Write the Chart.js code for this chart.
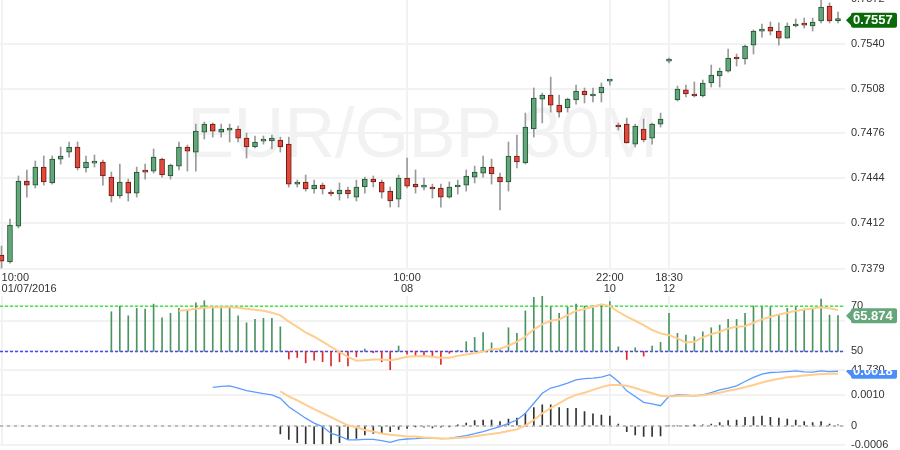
<!DOCTYPE html>
<html>
<head>
<meta charset="utf-8">
<title>EUR/GBP 30M</title>
<script src="https://cdn.jsdelivr.net/npm/chart.js"></script>
<style>
  body { margin: 0; background: #fff; }
  #wrap { position: relative; width: 900px; height: 450px; overflow: hidden; }
  canvas { position: absolute; left: 0; }
</style>
</head>
<body>
<div id="wrap">
  <canvas id="main" width="900" height="300" style="top:0"></canvas>
  <canvas id="rsi" width="900" height="100" style="top:290px"></canvas>
  <canvas id="macd" width="900" height="80" style="top:370px"></canvas>
</div>
<script>
// candle index (one per 30 minute bar shown)
const candleIndex = Array.from({ length: 100 }, (_, i) => i);

const opens = [0.73890,0.73840,0.74097,0.74419,0.74390,0.74519,0.74405,0.74576,0.74626,0.74662,
  0.74512,0.74547,0.74555,0.74447,0.74312,0.74412,0.74333,0.74490,0.74490,0.74576,
  0.74455,0.74526,0.74662,0.74626,0.74769,0.74826,0.74769,0.74783,0.74791,0.74726,
  0.74662,0.74704,0.74705,0.74712,0.74683,0.74397,0.74412,0.74362,0.74390,0.74333,
  0.74326,0.74355,0.74304,0.74376,0.74433,0.74412,0.74347,0.74290,0.74440,0.74397,
  0.74375,0.74376,0.74369,0.74304,0.74376,0.74390,0.74447,0.74476,0.74519,0.74447,
  0.74412,0.74598,0.74548,0.74791,0.75005,0.75034,0.74962,0.74941,0.74998,0.75062,
  0.75027,0.75048,0.75133,0.74819,0.74826,0.74683,0.74791,0.74726,0.74826,0.75276,
  0.74998,0.75070,0.75034,0.75027,0.75120,0.75170,0.75205,0.75298,0.75291,0.75391,
  0.75490,0.75520,0.75491,0.75441,0.75527,0.75534,0.75527,0.75563,0.75670,0.75566];
const highs = [0.73954,0.74147,0.74455,0.74498,0.74562,0.74598,0.74598,0.74662,0.74698,0.74698,
  0.74598,0.74605,0.74569,0.74483,0.74540,0.74433,0.74519,0.74540,0.74648,0.74583,
  0.74540,0.74698,0.74676,0.74826,0.74841,0.74834,0.74826,0.74826,0.74812,0.74762,
  0.74741,0.74741,0.74748,0.74733,0.74733,0.74426,0.74462,0.74426,0.74405,0.74355,
  0.74405,0.74376,0.74426,0.74447,0.74455,0.74426,0.74376,0.74462,0.74583,0.74498,
  0.74440,0.74397,0.74397,0.74412,0.74426,0.74498,0.74526,0.74598,0.74576,0.74476,
  0.74698,0.74748,0.74905,0.75084,0.75048,0.75162,0.75034,0.75012,0.75105,0.75084,
  0.75084,0.75120,0.75141,0.74834,0.74869,0.74826,0.74862,0.74834,0.74905,0.75298,
  0.75098,0.75105,0.75127,0.75141,0.75248,0.75227,0.75363,0.75327,0.75391,0.75499,
  0.75541,0.75556,0.75549,0.75549,0.75577,0.75584,0.75584,0.75713,0.75692,0.75627];
const lows = [0.73797,0.73832,0.74083,0.74304,0.74369,0.74390,0.74397,0.74540,0.74590,0.74498,
  0.74483,0.74519,0.74390,0.74269,0.74297,0.74276,0.74304,0.74433,0.74476,0.74447,
  0.74433,0.74498,0.74490,0.74490,0.74719,0.74733,0.74733,0.74698,0.74698,0.74583,
  0.74655,0.74683,0.74648,0.74626,0.74376,0.74376,0.74347,0.74333,0.74326,0.74312,
  0.74283,0.74297,0.74276,0.74333,0.74376,0.74297,0.74233,0.74233,0.74369,0.74333,
  0.74355,0.74297,0.74233,0.74297,0.74326,0.74347,0.74405,0.74447,0.74397,0.74212,
  0.74347,0.74512,0.74540,0.74733,0.74834,0.74912,0.74876,0.74912,0.74969,0.74977,
  0.74984,0.74984,0.75105,0.74784,0.74690,0.74662,0.74698,0.74683,0.74805,0.75263,
  0.74991,0.75020,0.75020,0.75020,0.75091,0.75091,0.75198,0.75241,0.75255,0.75327,
  0.75448,0.75463,0.75391,0.75440,0.75520,0.75513,0.75491,0.75549,0.75549,0.75549];
const closes = [0.73847,0.74104,0.74419,0.74390,0.74519,0.74412,0.74576,0.74598,0.74662,0.74512,
  0.74555,0.74548,0.74455,0.74312,0.74412,0.74333,0.74483,0.74483,0.74590,0.74462,
  0.74533,0.74662,0.74633,0.74776,0.74826,0.74776,0.74791,0.74784,0.74726,0.74662,
  0.74698,0.74705,0.74726,0.74662,0.74397,0.74412,0.74362,0.74390,0.74362,0.74326,
  0.74355,0.74326,0.74376,0.74433,0.74412,0.74340,0.74276,0.74440,0.74383,0.74376,
  0.74376,0.74362,0.74304,0.74376,0.74390,0.74455,0.74483,0.74519,0.74469,0.74412,
  0.74598,0.74555,0.74805,0.75012,0.75034,0.74962,0.74912,0.75005,0.75062,0.75034,
  0.75041,0.75091,0.75134,0.74805,0.74691,0.74812,0.74712,0.74826,0.74862,0.75277,
  0.75077,0.75041,0.75027,0.75120,0.75177,0.75205,0.75298,0.75291,0.75384,0.75491,
  0.75491,0.75491,0.75441,0.75527,0.75541,0.75533,0.75556,0.75663,0.75563,0.75568];

// RSI and its moving average
const rsi = Array(13).fill(null).concat([
  67.6,70.1,65.8,69.1,68.8,71.0,64.9,66.9,69.1,68.4,
  71.6,72.5,69.8,69.8,69.8,65.8,62.7,64.2,64.7,64.7,
  60.9,46.6,47.3,44.9,46.1,45.4,43.5,45.4,43.5,47.6,
  51.0,49.4,45.4,41.73,52.4,48.8,47.9,47.9,47.6,44.2,
  49.1,50.5,54.3,56.2,58.3,53.8,51.3,60.5,58.0,68.0,
  74.0,74.6,69.8,66.9,69.6,71.0,70.1,70.1,70.9,72.1,
  52.0,46.4,51.6,47.9,52.4,54.0,66.9,58.0,57.2,56.5,
  58.7,60.5,61.7,64.2,64.2,66.9,70.1,69.8,69.8,66.4,
  69.1,69.8,68.8,69.1,73.2,66.1,65.874]);
const rsiMa = Array(21).fill(null).concat([
  68.0,68.4,68.9,69.4,69.6,69.6,69.6,69.4,68.9,68.5,
  68.0,67.2,66.0,63.2,60.9,58.4,56.5,54.3,52.0,49.8,
  47.6,45.8,46.1,46.4,46.4,46.1,46.7,47.6,47.8,47.9,
  47.6,47.2,47.2,48.0,48.6,49.2,49.9,51.0,51.2,52.5,
  54.3,56.5,59.8,62.0,63.6,64.2,66.1,68.0,68.8,69.8,
  70.9,70.1,67.6,65.4,63.6,61.7,59.5,58.0,57.2,55.8,
  54.0,54.3,56.2,57.6,58.7,60.2,60.9,61.2,62.7,64.2,
  65.4,66.4,67.2,68.0,68.6,69.1,69.6,69.1,68.4]);

// MACD line, signal line, histogram
const macd = Array(25).fill(null).concat([
  0.00124,0.00127,0.00129,0.00122,0.00114,0.00109,0.00104,0.00100,0.00089,0.00062,
  0.00043,0.00025,0.00009,-0.00002,-0.00024,-0.00032,-0.00045,-0.00045,-0.00043,-0.00043,
  -0.00047,-0.00053,-0.00045,-0.00042,-0.00041,-0.00038,-0.00039,-0.00041,-0.00040,-0.00035,
  -0.00031,-0.00025,-0.00018,-0.00010,-0.00002,0.00008,0.00019,0.00041,0.00073,0.00105,
  0.00122,0.00129,0.00138,0.00148,0.00152,0.00154,0.00157,0.00165,0.00143,0.00113,
  0.00095,0.00076,0.00071,0.00065,0.00095,0.00100,0.00099,0.00097,0.00100,0.00107,
  0.00116,0.00122,0.00129,0.00143,0.00156,0.00167,0.00172,0.00173,0.00175,0.00177,
  0.00174,0.00173,0.00177,0.00175,0.00176]);
const signal = Array(33).fill(null).concat([
  0.00111,0.00095,0.00082,0.00068,0.00054,0.00041,0.00028,0.00015,0.00002,-0.00004,
  -0.00013,-0.00018,-0.00024,-0.00028,-0.00031,-0.00034,-0.00034,-0.00037,-0.00039,-0.00040,
  -0.00040,-0.00038,-0.00037,-0.00033,-0.00029,-0.00026,-0.00022,-0.00016,-0.00011,0.00001,
  0.00019,0.00041,0.00057,0.00073,0.00089,0.00100,0.00107,0.00116,0.00125,0.00132,
  0.00132,0.00129,0.00122,0.00113,0.00105,0.00097,0.00095,0.00096,0.00097,0.00097,
  0.00099,0.00103,0.00107,0.00113,0.00118,0.00125,0.00132,0.00140,0.00146,0.00152,
  0.00157,0.00159,0.00162,0.00165,0.00167,0.00168,0.00168]);
const hist = Array(33).fill(null).concat([
  -0.00026,-0.00043,-0.00054,-0.00058,-0.00058,-0.00058,-0.00058,-0.00054,-0.00043,-0.00040,
  -0.00029,-0.00024,-0.00022,-0.00018,-0.00011,-0.00008,-0.00002,-0.00004,-0.00006,-0.00004,
  -0.00003,0.00002,0.00009,0.00017,0.00019,0.00019,0.00014,0.00022,0.00025,0.00041,
  0.00059,0.00068,0.00068,0.00059,0.00057,0.00057,0.00046,0.00039,0.00035,0.00032,
  0.00006,-0.00018,-0.00029,-0.00034,-0.00034,-0.00032,0.00000,0.00000,0.00000,0.00001,
  0.00003,0.00006,0.00011,0.00017,0.00019,0.00028,0.00030,0.00032,0.00028,0.00025,
  0.00022,0.00019,0.00014,0.00011,0.00014,0.00006,0.00003]);

// axis ticks
const xTickIdx = [0, 48, 72, 79];
const xTickLabels = [['10:00', '01/07/2016'], ['10:00', '08'], ['22:00', '10'], ['18:30', '12']];
const priceTicks = [0.7379, 0.7412, 0.7444, 0.7476, 0.7508, 0.7540, 0.7572];
const rsiTicks = [41.73, 50, 63.5, 70];
const rsiTickLabels = ['41.730', '50', '', '70'];
const rsiLevels = [70, 50];
const macdTicks = [-0.0006, 0, 0.0010, 0.0018];
const macdTickLabels = ['-0.0006', '0', '0.0010', '0.0018'];

const FONT = '"Liberation Sans", Arial, sans-serif';
const GRID = '#f2f2f2';
const X_MIN = -0.18, X_MAX = 99.83;
const UP = '#62a679', UP_LINE = '#1f5232', DOWN = '#e0493b', DOWN_LINE = '#6e1a12';

function xScale(showLabels) {
  return {
    type: 'linear', min: X_MIN, max: X_MAX, bounds: 'data', offset: false,
    afterBuildTicks: s => { s.ticks = xTickIdx.map(v => ({ value: v })).concat([{ value: X_MAX }]); },
    afterFit: s => { s.height = showLabels ? 30 : 0; s.paddingLeft = 0; s.paddingRight = 0; },
    grid: { offset: false, color: c => c.index < xTickIdx.length ? GRID : 'rgba(0,0,0,0)', lineWidth: 2, drawTicks: false },
    border: { display: false },
    ticks: {
      display: showLabels, autoSkip: false, maxRotation: 0, minRotation: 0, align: 'inner', padding: 2,
      color: '#333', font: { size: 11, family: FONT, lineHeight: 1.0 },
      callback: (v, i) => xTickLabels[i] || ''
    }
  };
}

function yScale(min, max, ticks, labels) {
  return {
    position: 'right', min, max, bounds: 'data',
    afterBuildTicks: s => { s.ticks = ticks.map(v => ({ value: v })); },
    afterFit: s => { s.width = 55; s.paddingTop = 0; s.paddingBottom = 0; },
    grid: { color: GRID, lineWidth: 2, drawTicks: false },
    border: { display: false },
    ticks: { padding: 6, color: '#333', font: { size: 11, family: FONT }, callback: (v, i) => labels[i] }
  };
}

function tagPlugin(value, text, color) {
  return {
    id: 'lastTag',
    afterDraw(chart) {
      const { ctx, chartArea } = chart;
      const y = chart.scales.y.getPixelForValue(value);
      const x = chartArea.right + 1;
      ctx.save();
      ctx.fillStyle = color;
      ctx.beginPath();
      ctx.moveTo(x, y);
      ctx.lineTo(x + 6, y - 6);
      ctx.lineTo(x + 6, y + 6);
      ctx.closePath();
      ctx.fill();
      ctx.beginPath();
      ctx.roundRect(x + 5, y - 7.5, 46, 15, 2);
      ctx.fill();
      ctx.fillStyle = '#fff';
      ctx.font = 'bold 13px ' + FONT;
      ctx.textBaseline = 'middle';
      ctx.fillText(text, x + 7, y + 0.5);
      ctx.restore();
    }
  };
}

function levelsPlugin(levels, colors, dash) {
  return {
    id: 'levels',
    beforeDatasetsDraw(chart) {
      const { ctx, chartArea } = chart;
      ctx.save();
      ctx.lineWidth = 1.5;
      ctx.setLineDash(dash);
      levels.forEach((lv, i) => {
        const y = chart.scales.y.getPixelForValue(lv);
        ctx.strokeStyle = colors[i];
        ctx.beginPath();
        ctx.moveTo(chartArea.left, y);
        ctx.lineTo(chartArea.right, y);
        ctx.stroke();
      });
      ctx.restore();
    }
  };
}

const watermark = {
  id: 'watermark',
  beforeDatasetsDraw(chart) {
    const { ctx, chartArea } = chart;
    ctx.save();
    ctx.fillStyle = '#f2f2f2';
    ctx.font = '70px ' + FONT;
    ctx.textAlign = 'center';
    ctx.textBaseline = 'middle';
    ctx.fillText('EUR/GBP 30M', (chartArea.left + chartArea.right) / 2, (chartArea.top + chartArea.bottom) / 2 + 3);
    ctx.restore();
  }
};

const common = {
  responsive: false, animation: false, events: [],
  plugins: { legend: { display: false }, tooltip: { enabled: false } }
};

const up = candleIndex.map(i => closes[i] >= opens[i]);

new Chart(document.getElementById('main'), {
  type: 'bar',
  data: {
    datasets: [
      {
        label: 'wick', order: 2, grouped: false, barThickness: 1,
        data: candleIndex.map(i => ({ x: i, y: [lows[i], highs[i]] })),
        backgroundColor: '#9a9a9a'
      },
      {
        label: 'body', order: 1, grouped: false, barThickness: 5, minBarLength: 2,
        borderWidth: 1, borderSkipped: false,
        data: candleIndex.map(i => ({ x: i, y: [opens[i], closes[i]] })),
        backgroundColor: up.map(u => u ? UP : DOWN),
        borderColor: up.map(u => u ? UP_LINE : DOWN_LINE)
      }
    ]
  },
  options: {
    ...common,
    layout: { padding: 0 },
    scales: {
      x: xScale(true),
      y: yScale(0.73783, 0.75713, priceTicks, priceTicks.map(v => v.toFixed(4)))
    }
  },
  plugins: [watermark, tagPlugin(closes[99], closes[99].toFixed(4), '#0a6a0a')]
});

new Chart(document.getElementById('rsi'), {
  type: 'bar',
  data: {
    datasets: [
      {
        type: 'line', label: 'RSI MA', order: 1,
        data: candleIndex.map(i => ({ x: i, y: rsiMa[i] })),
        borderColor: '#ffcd8e', borderWidth: 2, pointRadius: 0, spanGaps: false
      },
      {
        label: 'RSI', order: 2, grouped: false, barThickness: 1,
        data: candleIndex.filter(i => rsi[i] !== null).map(i => ({ x: i, y: [50, rsi[i]] })),
        backgroundColor: candleIndex.filter(i => rsi[i] !== null).map(i => rsi[i] >= 50 ? '#4a9462' : '#e02828')
      }
    ]
  },
  options: {
    ...common,
    layout: { padding: { top: 6, bottom: 20, left: 0, right: 0 } },
    scales: { x: xScale(false), y: yScale(41.73, 74.6, rsiTicks, rsiTickLabels) }
  },
  plugins: [levelsPlugin(rsiLevels, ['#44e844', '#4848f0'], [3, 2]), tagPlugin(rsi[99], rsi[99].toFixed(3), '#65a67b')]
});

new Chart(document.getElementById('macd'), {
  type: 'bar',
  data: {
    datasets: [
      {
        type: 'line', label: 'MACD', order: 1,
        data: candleIndex.map(i => ({ x: i, y: macd[i] })),
        borderColor: '#5c9cff', borderWidth: 1.3, pointRadius: 0
      },
      {
        type: 'line', label: 'Signal', order: 0,
        data: candleIndex.map(i => ({ x: i, y: signal[i] })),
        borderColor: '#ffcd8e', borderWidth: 2, pointRadius: 0
      },
      {
        label: 'Histogram', order: 3, grouped: false, barThickness: 1,
        data: candleIndex.filter(i => hist[i] !== null).map(i => ({ x: i, y: hist[i] })),
        backgroundColor: '#333'
      }
    ]
  },
  options: {
    ...common,
    layout: { padding: { top: 0, bottom: 5.4, left: 0, right: 0 } },
    scales: { x: xScale(false), y: yScale(-0.0006, 0.0018, macdTicks, macdTickLabels) }
  },
  plugins: [levelsPlugin([0], ['#aaaaaa'], [3, 4]), tagPlugin(macd[99], macd[99].toFixed(4), '#4c8ef8')]
});
</script>
</body>
</html>
